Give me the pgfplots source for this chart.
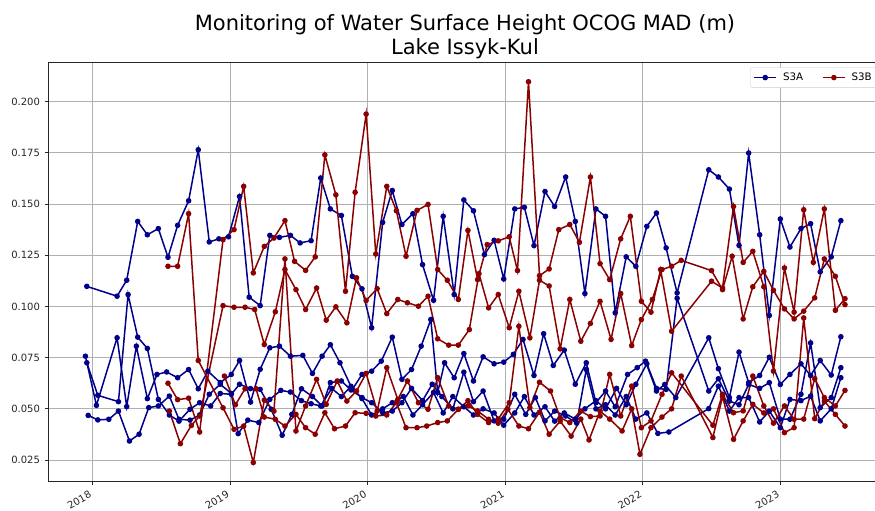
\documentclass[border=0pt]{standalone}
\usepackage{fontspec}
\setmainfont{DejaVu Sans}
\usepackage{pgfplots}
\pgfplotsset{compat=1.18}
\definecolor{sa}{HTML}{00008B}
\definecolor{sb}{HTML}{8B0000}
\definecolor{gridc}{HTML}{B0B0B0}
\definecolor{legc}{HTML}{CCCCCC}
\begin{document}
\begin{tikzpicture}
\begin{axis}[
  scale only axis, width=834pt, height=418.3pt,
  xmin=2017.678, xmax=2023.739, ymin=0.01477, ymax=0.2190,
  xtick={2018,2019,2020,2021,2022,2023},
  xticklabels={2018,2019,2020,2021,2022,2023},
  ytick={0.025,0.050,0.075,0.100,0.125,0.150,0.175,0.200},
  scaled y ticks=false,
  yticklabel style={/pgf/number format/fixed,/pgf/number format/fixed zerofill,/pgf/number format/precision=3},
  /pgf/number format/assume math mode=true,
  tick label style={font=\fontsize{10}{12}\selectfont, text=black!85},
  xticklabel style={rotate=30, anchor=north east, inner sep=1pt, xshift=-5pt, yshift=-2pt},
  yticklabel style={xshift=-1pt},
  tick align=outside, major tick length=3.5pt, tick pos=left,
  grid=major, grid style={gridc, line width=0.8pt},
  axis line style={line width=0.8pt, black!85},
  every tick/.style={black!85, line width=0.8pt},
  legend columns=2,
  legend cell align=left,
  legend image code/.code={\draw[mark repeat=2,mark phase=2] plot coordinates {(0pt,0pt) (11pt,0pt) (22pt,0pt)};},
  legend style={at={(1,1)}, anchor=north east, xshift=-5pt, yshift=-4.6pt, draw=legc, rounded corners=2pt, font=\fontsize{10.3}{12}\selectfont, inner xsep=3pt, inner ysep=3.5pt, /tikz/every odd column/.append style={column sep=4pt}, /tikz/every even column/.append style={column sep=17pt}},
  every axis plot/.append style={line width=1.5pt, mark=*, mark size=2pt, mark options={solid}},
]
% ---------------- S3A ----------------
\addplot[sa] coordinates {
(2017.96,0.1098) (2018.18,0.1050) (2018.25,0.1128) (2018.33,0.1415) (2018.40,0.1350) (2018.48,0.1380) (2018.55,0.1240) (2018.62,0.1396) (2018.70,0.1516) (2018.77,0.1765) (2018.85,0.1315) (2018.92,0.1330) (2018.99,0.1340) (2019.07,0.1537) (2019.14,0.1045) (2019.22,0.1004) (2019.29,0.1347) (2019.36,0.1337) (2019.44,0.1347) (2019.51,0.1310) (2019.59,0.1321) (2019.66,0.1627) (2019.73,0.1476) (2019.81,0.1444) (2019.89,0.1147) (2019.96,0.1086) (2020.03,0.0896) (2020.11,0.1410) (2020.18,0.1566) (2020.25,0.1400) (2020.33,0.1453) (2020.40,0.1204) (2020.48,0.1030) (2020.55,0.1440) (2020.63,0.1058) (2020.70,0.1520) (2020.77,0.1467) (2020.85,0.1253) (2020.92,0.1323) (2020.99,0.1134) (2021.07,0.1476) (2021.14,0.1484) (2021.21,0.1297) (2021.29,0.1561) (2021.36,0.1488) (2021.44,0.1632) (2021.51,0.1415) (2021.58,0.1063) (2021.66,0.1476) (2021.73,0.1440) (2021.80,0.0969) (2021.88,0.1242) (2021.95,0.1196) (2022.03,0.1391) (2022.10,0.1456) (2022.17,0.1286) (2022.25,0.1066) (2022.48,0.1667) (2022.55,0.1632) (2022.63,0.1573) (2022.70,0.1298) (2022.77,0.1749) (2022.85,0.1350) (2022.92,0.0956) (2023.00,0.1427) (2023.07,0.1290) (2023.15,0.1380) (2023.22,0.1404) (2023.29,0.1169) (2023.37,0.1242) (2023.44,0.1419)
};
\addlegendentry{S3A}
\addplot[sa, forget plot] coordinates {
(2017.95,0.0757) (2018.03,0.0517) (2018.18,0.0847) (2018.25,0.0511) (2018.32,0.0806) (2018.40,0.0550) (2018.47,0.0668) (2018.54,0.0680) (2018.62,0.0652) (2018.70,0.0692) (2018.77,0.0598) (2018.84,0.0684) (2018.93,0.0628) (2019.01,0.0668) (2019.07,0.0736) (2019.15,0.0533) (2019.22,0.0693) (2019.29,0.0798) (2019.36,0.0806) (2019.44,0.0757) (2019.53,0.0761) (2019.60,0.0673) (2019.67,0.0757) (2019.73,0.0813) (2019.80,0.0725) (2019.89,0.0595) (2019.96,0.0668) (2020.03,0.0684) (2020.10,0.0733) (2020.18,0.0850) (2020.25,0.0644) (2020.32,0.0692) (2020.39,0.0806) (2020.46,0.0936) (2020.51,0.0580) (2020.56,0.0725) (2020.63,0.0652) (2020.70,0.0770) (2020.77,0.0636) (2020.84,0.0754) (2020.92,0.0720) (2020.99,0.0728) (2021.06,0.0766) (2021.13,0.0839) (2021.21,0.0663) (2021.28,0.0867) (2021.35,0.0712) (2021.43,0.0787) (2021.51,0.0620) (2021.59,0.0725) (2021.66,0.0530) (2021.73,0.0587) (2021.80,0.0510) (2021.89,0.0668) (2021.96,0.0701) (2022.02,0.0733) (2022.10,0.0587) (2022.16,0.0619) (2022.24,0.0555) (2022.48,0.0847) (2022.55,0.0696) (2022.63,0.0555) (2022.70,0.0777) (2022.77,0.0628) (2022.85,0.0663) (2022.92,0.0752) (2023.00,0.0619) (2023.07,0.0668) (2023.15,0.0720) (2023.22,0.0663) (2023.29,0.0736) (2023.37,0.0665) (2023.44,0.0852)
};
\addplot[sa, forget plot] coordinates {
(2017.96,0.0725) (2018.04,0.0566) (2018.19,0.0535) (2018.26,0.1058) (2018.33,0.0850) (2018.40,0.0795) (2018.48,0.0546) (2018.56,0.0470) (2018.63,0.0440) (2018.71,0.0498) (2018.78,0.0530) (2018.86,0.0514) (2018.93,0.0575) (2019.01,0.0571) (2019.07,0.0620) (2019.15,0.0599) (2019.22,0.0595) (2019.30,0.0498) (2019.38,0.0371) (2019.45,0.0473) (2019.52,0.0598) (2019.60,0.0560) (2019.67,0.0514) (2019.73,0.0628) (2019.81,0.0636) (2019.88,0.0592) (2019.96,0.0555) (2020.03,0.0530) (2020.11,0.0481) (2020.18,0.0489) (2020.25,0.0530) (2020.32,0.0600) (2020.40,0.0540) (2020.47,0.0620) (2020.54,0.0560) (2020.62,0.0500) (2020.70,0.0679) (2020.77,0.0535) (2020.84,0.0587) (2020.92,0.0441) (2020.99,0.0449) (2021.07,0.0571) (2021.15,0.0473) (2021.22,0.0555) (2021.29,0.0441) (2021.36,0.0489) (2021.44,0.0465) (2021.52,0.0430) (2021.59,0.0692) (2021.66,0.0500) (2021.73,0.0520) (2021.80,0.0470) (2021.88,0.0560) (2021.95,0.0450) (2022.03,0.0480) (2022.11,0.0380) (2022.19,0.0387) (2022.48,0.0501) (2022.55,0.0611) (2022.63,0.0489) (2022.70,0.0555) (2022.77,0.0555) (2022.85,0.0436) (2022.92,0.0489) (2023.00,0.0408) (2023.07,0.0546) (2023.15,0.0540) (2023.22,0.0562) (2023.29,0.0441) (2023.37,0.0500) (2023.44,0.0652)
};
\addplot[sa, forget plot] coordinates {
(2017.97,0.0468) (2018.04,0.0446) (2018.12,0.0449) (2018.19,0.0489) (2018.27,0.0343) (2018.34,0.0376) (2018.41,0.0506) (2018.48,0.0514) (2018.56,0.0562) (2018.63,0.0449) (2018.71,0.0445) (2018.78,0.0470) (2018.85,0.0571) (2018.93,0.0620) (2019.01,0.0575) (2019.06,0.0379) (2019.13,0.0445) (2019.21,0.0433) (2019.29,0.0546) (2019.37,0.0590) (2019.44,0.0582) (2019.52,0.0540) (2019.59,0.0525) (2019.66,0.0514) (2019.74,0.0600) (2019.81,0.0560) (2019.88,0.0610) (2019.96,0.0550) (2020.03,0.0470) (2020.11,0.0500) (2020.18,0.0530) (2020.26,0.0560) (2020.33,0.0470) (2020.40,0.0520) (2020.48,0.0580) (2020.55,0.0480) (2020.62,0.0560) (2020.70,0.0510) (2020.77,0.0470) (2020.84,0.0500) (2020.92,0.0480) (2020.99,0.0420) (2021.07,0.0480) (2021.14,0.0560) (2021.21,0.0470) (2021.29,0.0510) (2021.36,0.0440) (2021.43,0.0480) (2021.51,0.0450) (2021.58,0.0500) (2021.66,0.0540) (2021.73,0.0500) (2021.81,0.0600) (2021.88,0.0520) (2021.95,0.0620) (2022.03,0.0720) (2022.10,0.0600) (2022.17,0.0595) (2022.25,0.1040) (2022.48,0.0587) (2022.55,0.0647) (2022.63,0.0538) (2022.70,0.0520) (2022.77,0.0619) (2022.85,0.0600) (2022.92,0.0628) (2023.00,0.0450) (2023.07,0.0449) (2023.15,0.0571) (2023.22,0.0822) (2023.29,0.0506) (2023.37,0.0555) (2023.44,0.0701)
};
% ---------------- S3B ----------------
\addplot[sb] coordinates {
(2018.55,0.0625) (2018.62,0.0545) (2018.70,0.0552) (2018.78,0.0387) (2018.95,0.1326) (2019.03,0.1375) (2019.10,0.1586) (2019.17,0.1164) (2019.25,0.1293) (2019.32,0.1334) (2019.40,0.1419) (2019.47,0.1220) (2019.55,0.1176) (2019.62,0.1242) (2019.69,0.1740) (2019.77,0.1545) (2019.84,0.1074) (2019.91,0.1557) (2019.99,0.1939) (2020.06,0.1256) (2020.14,0.1586) (2020.21,0.1467) (2020.28,0.1245) (2020.36,0.1469) (2020.44,0.1498) (2020.51,0.1180) (2020.58,0.1128) (2020.66,0.1034) (2020.73,0.1371) (2020.80,0.1131) (2020.87,0.1302) (2020.95,0.1320) (2021.03,0.1340) (2021.09,0.1175) (2021.17,0.2097) (2021.25,0.1150) (2021.32,0.1183) (2021.39,0.1375) (2021.47,0.1400) (2021.54,0.1313) (2021.62,0.1632) (2021.69,0.1209) (2021.76,0.1131) (2021.84,0.1330) (2021.91,0.1440) (2021.99,0.1025) (2022.06,0.0972) (2022.13,0.1180) (2022.21,0.0879) (2022.50,0.1123) (2022.58,0.1090) (2022.66,0.1488) (2022.73,0.1215) (2022.80,0.1269) (2022.88,0.1096) (2022.95,0.0684) (2023.03,0.1188) (2023.10,0.0972) (2023.17,0.1472) (2023.24,0.1215) (2023.32,0.1476) (2023.40,0.0981) (2023.47,0.1038)
};
\addlegendentry{S3B}
\addplot[sb, forget plot] coordinates {
(2018.56,0.0489) (2018.64,0.0330) (2018.72,0.0419) (2018.78,0.0465) (2018.95,0.1004) (2019.03,0.0996) (2019.11,0.0996) (2019.18,0.0985) (2019.25,0.0814) (2019.33,0.0974) (2019.40,0.1180) (2019.48,0.1082) (2019.55,0.0985) (2019.63,0.1090) (2019.70,0.0933) (2019.77,0.0998) (2019.85,0.0920) (2019.92,0.1140) (2019.99,0.1029) (2020.07,0.1087) (2020.14,0.0965) (2020.22,0.1034) (2020.29,0.1018) (2020.37,0.1001) (2020.44,0.1050) (2020.51,0.0842) (2020.59,0.0811) (2020.66,0.0811) (2020.74,0.0887) (2020.81,0.1160) (2020.88,0.0993) (2020.95,0.1058) (2021.03,0.0896) (2021.10,0.1074) (2021.18,0.0847) (2021.25,0.1128) (2021.32,0.1100) (2021.40,0.0793) (2021.47,0.1034) (2021.55,0.0830) (2021.62,0.0917) (2021.69,0.1025) (2021.77,0.0839) (2021.84,0.1063) (2021.92,0.0809) (2021.99,0.0936) (2022.07,0.1034) (2022.14,0.1180) (2022.21,0.1196) (2022.28,0.1225) (2022.50,0.1175) (2022.58,0.1082) (2022.65,0.1245) (2022.73,0.0939) (2022.80,0.1096) (2022.88,0.1171) (2022.95,0.1079) (2023.03,0.0988) (2023.10,0.0939) (2023.17,0.0977) (2023.25,0.1042) (2023.32,0.1232) (2023.40,0.1147) (2023.47,0.1009)
};
\addplot[sb, forget plot] coordinates {
(2018.55,0.1196) (2018.62,0.1196) (2018.70,0.1453) (2018.77,0.0736) (2018.95,0.0505) (2019.03,0.0400) (2019.10,0.0416) (2019.17,0.0238) (2019.25,0.0543) (2019.32,0.0489) (2019.40,0.1232) (2019.48,0.0392) (2019.55,0.0514) (2019.63,0.0644) (2019.70,0.0522) (2019.78,0.0636) (2019.85,0.0538) (2019.92,0.0587) (2019.99,0.0673) (2020.07,0.0489) (2020.14,0.0701) (2020.22,0.0546) (2020.29,0.0636) (2020.37,0.0530) (2020.44,0.0498) (2020.51,0.0652) (2020.59,0.0514) (2020.66,0.0498) (2020.73,0.0540) (2020.80,0.0473) (2020.88,0.0433) (2020.95,0.0450) (2021.03,0.0530) (2021.10,0.0903) (2021.18,0.0506) (2021.25,0.0630) (2021.33,0.0587) (2021.40,0.0457) (2021.47,0.0433) (2021.55,0.0489) (2021.62,0.0462) (2021.69,0.0465) (2021.76,0.0668) (2021.84,0.0465) (2021.92,0.0611) (2021.99,0.0408) (2022.06,0.0441) (2022.14,0.0571) (2022.21,0.0676) (2022.51,0.0420) (2022.58,0.0571) (2022.66,0.0481) (2022.73,0.0490) (2022.80,0.0660) (2022.88,0.0514) (2022.95,0.0430) (2023.03,0.0514) (2023.10,0.0449) (2023.17,0.0450) (2023.25,0.0647) (2023.32,0.0555) (2023.40,0.0514) (2023.47,0.0590)
};
\addplot[sb, forget plot] coordinates {
(2018.96,0.0660) (2019.04,0.0520) (2019.11,0.0598) (2019.19,0.0598) (2019.25,0.0460) (2019.33,0.0449) (2019.40,0.0416) (2019.48,0.0473) (2019.55,0.0408) (2019.62,0.0376) (2019.69,0.0481) (2019.76,0.0403) (2019.84,0.0416) (2019.91,0.0481) (2019.99,0.0478) (2020.06,0.0465) (2020.14,0.0470) (2020.21,0.0530) (2020.28,0.0408) (2020.36,0.0408) (2020.43,0.0416) (2020.51,0.0433) (2020.58,0.0441) (2020.66,0.0498) (2020.73,0.0515) (2020.80,0.0490) (2020.88,0.0449) (2020.95,0.0430) (2021.02,0.0498) (2021.10,0.0416) (2021.17,0.0403) (2021.25,0.0484) (2021.32,0.0376) (2021.40,0.0440) (2021.48,0.0367) (2021.55,0.0450) (2021.61,0.0348) (2021.69,0.0489) (2021.76,0.0450) (2021.85,0.0392) (2021.92,0.0500) (2021.98,0.0278) (2022.06,0.0408) (2022.14,0.0460) (2022.21,0.0500) (2022.28,0.0660) (2022.51,0.0360) (2022.58,0.0560) (2022.66,0.0351) (2022.73,0.0441) (2022.80,0.0522) (2022.88,0.0480) (2022.95,0.0500) (2023.03,0.0384) (2023.10,0.0408) (2023.17,0.0944) (2023.25,0.0452) (2023.32,0.0538) (2023.40,0.0473) (2023.47,0.0416)
};
\end{axis}
\node[anchor=base, font=\fontsize{21}{24}\selectfont] at ([yshift=8.4pt]current axis.north) {Lake Issyk-Kul};
\node[anchor=base, font=\fontsize{21}{24}\selectfont] at ([yshift=31.7pt]current axis.north) {Monitoring of Water Surface Height OCOG MAD (m)};
\pgfresetboundingbox
\path[use as bounding box] ([shift={(-48pt,-30pt)}]current axis.south west) rectangle ([shift={(827pt,481pt)}]current axis.south west);
\end{tikzpicture}
\end{document}
